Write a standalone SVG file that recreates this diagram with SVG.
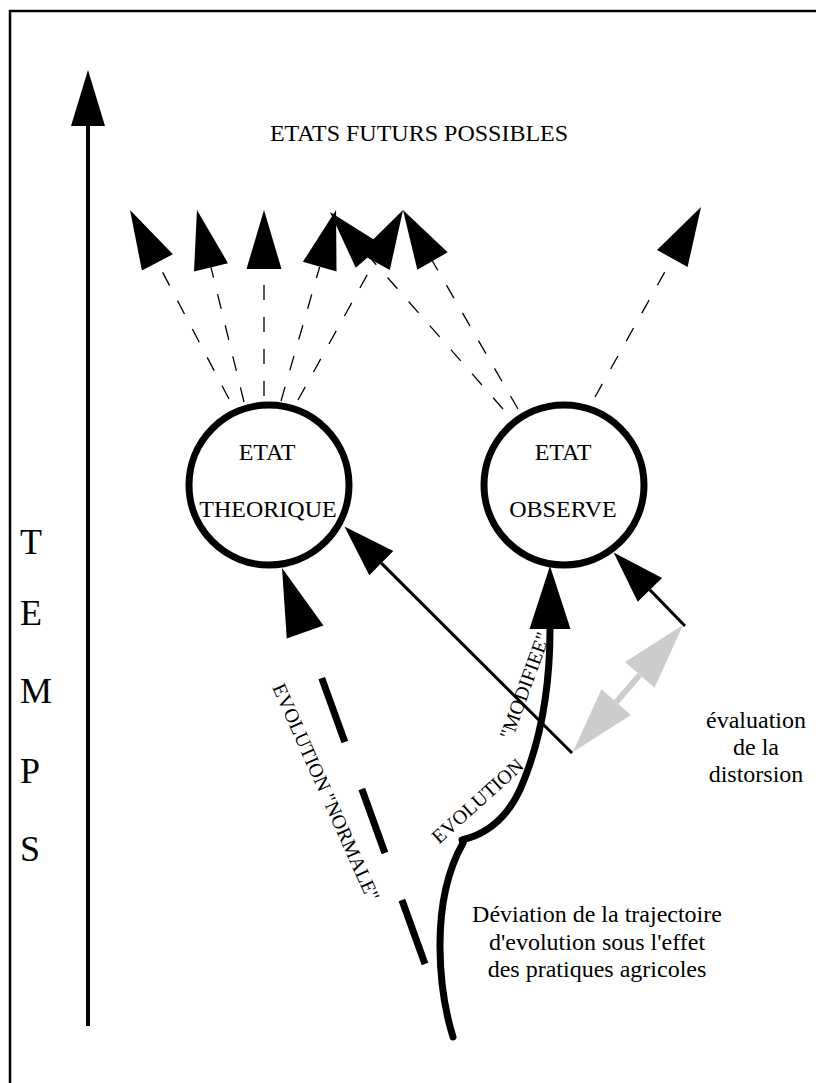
<svg xmlns="http://www.w3.org/2000/svg" width="816" height="1083" viewBox="0 0 816 1083">
<style>
  text { font-family: "Liberation Serif", "Times New Roman", serif; fill: #000; }
  .t24 { font-size: 24px; }
  .t20 { font-size: 20px; }
  .temps { font-size: 36px; }
  .mid { text-anchor: middle; }
  .state { fill: none; stroke: #000; stroke-width: 7; }
  .fut { fill: none; stroke: #000; stroke-width: 1.3; stroke-dasharray: 15 17; marker-end: url(#hFut); }
  .solid { fill: none; stroke: #000; stroke-width: 3; marker-end: url(#hSolid); }
  .frame { fill: none; stroke: #000; stroke-width: 2.5; }
</style>
<defs>
  <marker id="hFut" markerUnits="userSpaceOnUse" markerWidth="59" markerHeight="35" refX="0" refY="17.5" orient="auto" overflow="visible">
    <path d="M0,0 L59,17.5 L0,35 Z" fill="#000"/>
  </marker>
  <marker id="hAxis" markerUnits="userSpaceOnUse" markerWidth="56" markerHeight="34" refX="0" refY="17" orient="auto" overflow="visible">
    <path d="M0,0 L56,17 L0,34 Z" fill="#000"/>
  </marker>
  <marker id="hNormal" markerUnits="userSpaceOnUse" markerWidth="68" markerHeight="39" refX="0" refY="19.5" orient="auto" overflow="visible">
    <path d="M0,0 L68,19.5 L0,39 Z" fill="#000"/>
  </marker>
  <marker id="hMod" markerUnits="userSpaceOnUse" markerWidth="63" markerHeight="41" refX="0" refY="20.5" orient="auto" overflow="visible">
    <path d="M0,0 L63,20.5 L0,41 Z" fill="#000"/>
  </marker>
  <marker id="hSolid" markerUnits="userSpaceOnUse" markerWidth="52" markerHeight="34" refX="0" refY="17" orient="auto" overflow="visible">
    <path d="M0,0 L52,17 L0,34 Z" fill="#000"/>
  </marker>
  <marker id="hGray" markerUnits="userSpaceOnUse" markerWidth="66" markerHeight="39" refX="0" refY="19.5" orient="auto-start-reverse" overflow="visible">
    <path d="M0,0 L66,19.5 L0,39 Z" fill="#cccccc"/>
  </marker>
</defs>

<!-- page frame -->
<path class="frame" d="M10,1083 V11 H816"/>

<!-- time axis -->
<g id="axe-temps">
  <line x1="88" y1="1026" x2="88" y2="126" stroke="#000" stroke-width="4" marker-end="url(#hAxis)"/>
  <text class="temps" x="20" y="554">T</text>
  <text class="temps" x="20" y="625">E</text>
  <text class="temps" x="20" y="703">M</text>
  <text class="temps" x="20" y="783">P</text>
  <text class="temps" x="20" y="861">S</text>
</g>

<text id="titre" class="t24 mid" x="419" y="141">ETATS FUTURS POSSIBLES</text>

<!-- states -->
<g id="etat-theorique">
  <circle class="state" cx="269" cy="485" r="80"/>
  <text class="t24 mid" x="267" y="460">ETAT</text>
  <text class="t24 mid" x="268" y="517">THEORIQUE</text>
</g>
<g id="etat-observe">
  <circle class="state" cx="564" cy="485" r="80"/>
  <text class="t24 mid" x="563" y="460">ETAT</text>
  <text class="t24 mid" x="563" y="517">OBSERVE</text>
</g>

<!-- connectors -->
<g id="connectors">
  <!-- possible futures from the theoretical state -->
  <path class="fut" d="M229,399 L157.4,262.3"/>
  <path class="fut" d="M244,402 L211,267.3"/>
  <path class="fut" d="M264,396 L264,269"/>
  <path class="fut" d="M281,401 L319.7,266.7"/>
  <path class="fut" d="M298,400 L374.5,261.6"/>
  <!-- possible futures from the observed state -->
  <path class="fut" d="M503,409 L368.9,256.3"/>
  <path class="fut" d="M518,409 L432.5,261.1"/>
  <path class="fut" d="M595,397 L672.3,258.5"/>

  <!-- normal evolution -->
  <path d="M425,964 L305.1,632" fill="none" stroke="#000" stroke-width="7" stroke-dasharray="68 50" marker-end="url(#hNormal)"/>

  <!-- modified evolution -->
  <path d="M453,1037 C440,995 428,905 463,843" fill="none" stroke="#000" stroke-width="7" stroke-linecap="round"/>
  <path d="M462,840 C492,833 512,812 524,780 C540,740 550,690 550,629" fill="none" stroke="#000" stroke-width="7" stroke-linecap="round" marker-end="url(#hMod)"/>

  <!-- distortion -->
  <path class="solid" d="M572,753 L381.3,563.1"/>
  <path class="solid" d="M685,626 L649.9,589.9"/>
  <path d="M616.2,702.1 L639.8,674.9" fill="none" stroke="#cccccc" stroke-width="6" marker-start="url(#hGray)" marker-end="url(#hGray)"/>
</g>

<!-- labels -->
<g id="labels">
  <text class="t20 mid" transform="translate(320,795) rotate(66)">EVOLUTION "NORMALE"</text>
  <text class="t20 mid" transform="translate(482,806) rotate(-42)">EVOLUTION</text>
  <text class="t20 mid" transform="translate(531,688) rotate(-70)">"MODIFIEE"</text>
  <text class="t24 mid" x="756" y="728">évaluation</text>
  <text class="t24 mid" x="756" y="755">de la</text>
  <text class="t24 mid" x="756" y="782">distorsion</text>
  <text class="t24 mid" x="597" y="922">Déviation de la trajectoire</text>
  <text class="t24 mid" x="597" y="950">d'evolution sous l'effet</text>
  <text class="t24 mid" x="597" y="977">des pratiques agricoles</text>
</g>
</svg>
